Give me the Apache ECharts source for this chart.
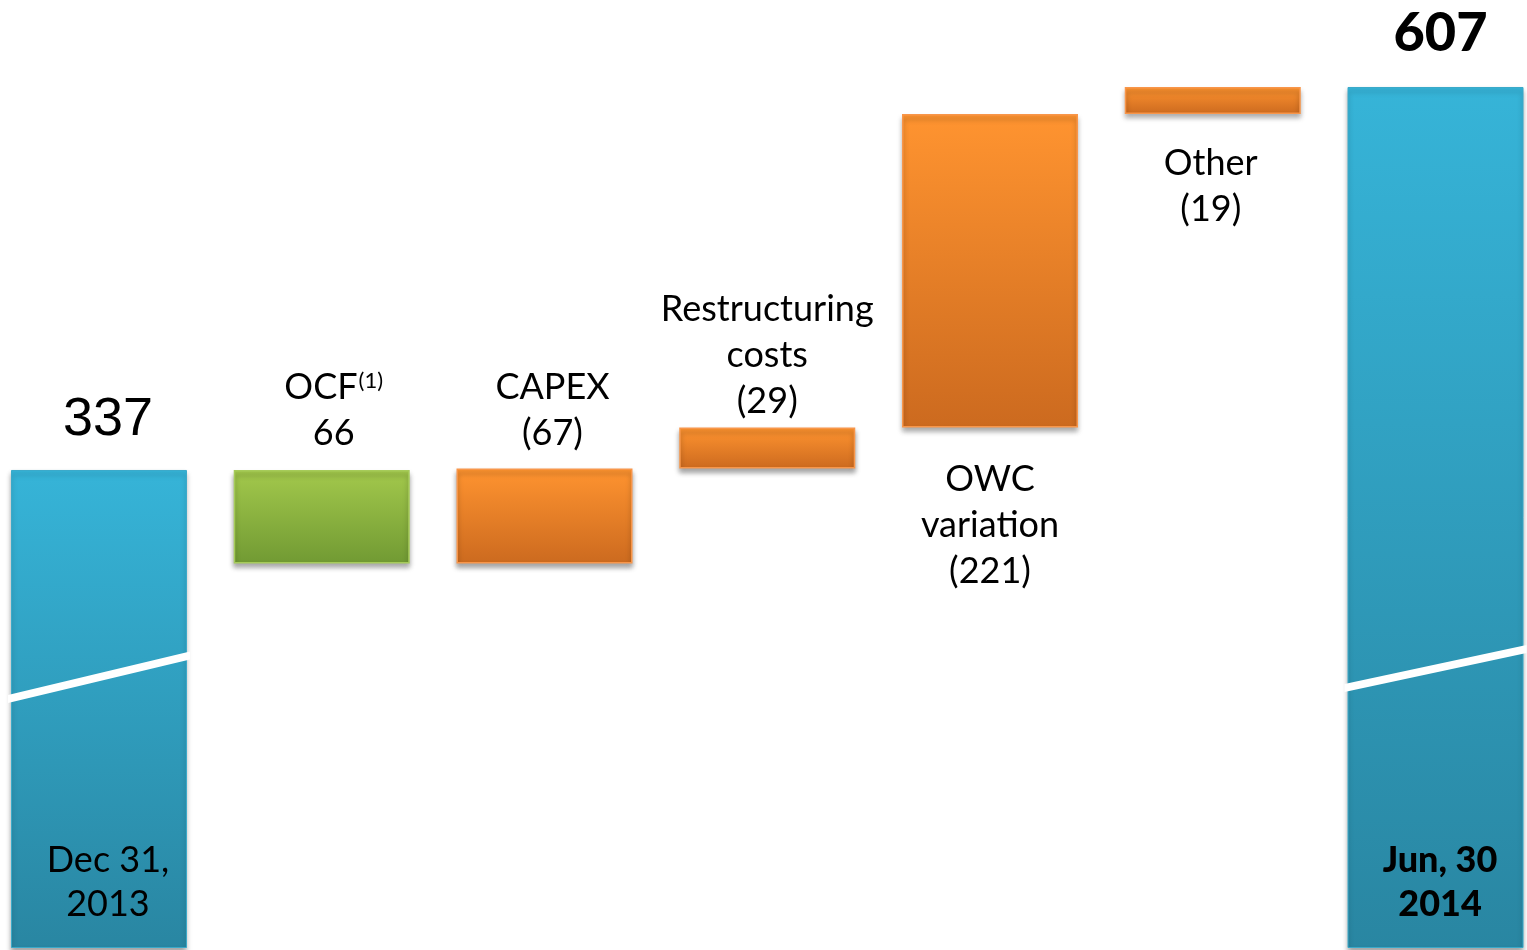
<!DOCTYPE html>
<html>
<head>
<meta charset="utf-8">
<script src="https://cdn.jsdelivr.net/npm/echarts@6/dist/echarts.min.js"></script>
<style>
  html, body { margin: 0; padding: 0; background: #ffffff; }
  #chart { width: 1527px; height: 950px; }
</style>
</head>
<body>
<div id="chart"></div>
<script>
// Net debt bridge, Dec 31 2013 -> Jun 30 2014
const categories = ['Dec 31, 2013', 'OCF', 'CAPEX', 'Restructuring costs', 'OWC variation', 'Other', 'Jun, 30 2014'];
const openingNetDebt = 337;
const closingNetDebt = 607;
// effect of each item on net debt (negative = reduces debt)
const movements = [-66, 67, 29, 221, 19];
const valueTexts = ['337', '66', '(67)', '(29)', '(221)', '(19)', '607'];
// axis-break marks on the two total bars: [category index, value at left edge, value at right edge]
const breakMarks = [[0, 175.5, 206.2], [6, 183.3, 210.8]];

const BAR_WIDTH = 176;
const FONT = 'Lato, "Open Sans", sans-serif';

// floating bases and visible heights of the waterfall
const bases = [0];
const heights = [openingNetDebt];
let running = openingNetDebt;
movements.forEach(m => {
  bases.push(m < 0 ? running + m : running);
  heights.push(Math.abs(m));
  running += m;
});
bases.push(0);
heights.push(closingNetDebt);

function grad(top, bottom) {
  return new echarts.graphic.LinearGradient(0, 0, 0, 1, [
    { offset: 0, color: top }, { offset: 1, color: bottom }
  ]);
}
const styles = {
  total: { color: grad('#36b4d8', '#2986a2'), borderColor: '#3aa9c9', borderWidth: 1 },
  down: { color: grad('#a3c94c', '#719a33'), borderColor: '#a6cb5a', borderWidth: 1.5 },
  up: { color: grad('#ff9430', '#cc6a1f'), borderColor: '#f8964a', borderWidth: 1.5 }
};
const shadow = { shadowColor: 'rgba(0,0,0,0.35)', shadowBlur: 5, shadowOffsetY: 4, shadowOffsetX: 0 };

const labelBase = { show: true, color: '#000', fontFamily: FONT, fontSize: 36, lineHeight: 46 };
const labels = [
  Object.assign({}, labelBase, { position: 'top', distance: 20, fontSize: 54, lineHeight: 60, fontFamily: '"Liberation Sans", Arial, sans-serif', offset: [9, 0], formatter: valueTexts[0] }),
  Object.assign({}, labelBase, { position: 'top', distance: 14, offset: [12, 0],
    formatter: '{n|OCF}{s|(1)}\n{n|' + valueTexts[1] + '}',
    rich: { n: { fontFamily: FONT, fontSize: 36, lineHeight: 46, color: '#000' },
            s: { fontFamily: FONT, fontSize: 22, lineHeight: 46, color: '#000', padding: [0, 0, 13, 1] } } }),
  Object.assign({}, labelBase, { position: 'top', distance: 12, offset: [8, 0], formatter: 'CAPEX\n' + valueTexts[2] }),
  Object.assign({}, labelBase, { position: 'top', distance: 3, offset: [0, 0], formatter: 'Restructuring\ncosts\n' + valueTexts[3] }),
  Object.assign({}, labelBase, { position: 'bottom', distance: 29, offset: [0, 0], formatter: 'OWC\nvariation\n' + valueTexts[4] }),
  Object.assign({}, labelBase, { position: 'bottom', distance: 26, offset: [-2, 0], formatter: 'Other\n' + valueTexts[5] }),
  Object.assign({}, labelBase, { position: 'top', distance: 23, fontSize: 54, lineHeight: 60, fontWeight: 900, offset: [5, 0], formatter: valueTexts[6] })
];

const kinds = ['total', 'down', 'up', 'up', 'up', 'up', 'total'];
const barData = heights.map((h, i) => ({
  value: h,
  itemStyle: Object.assign({}, styles[kinds[i]], shadow),
  label: labels[i]
}));

const chart = echarts.init(document.getElementById('chart'));
chart.setOption({
  animation: false,
  backgroundColor: '#ffffff',
  grid: { left: -12.4, right: -19.9, top: 26, bottom: 2, containLabel: false, outerBoundsMode: 'none' },
  xAxis: {
    type: 'category',
    data: categories,
    z: 20,
    axisLine: { show: false },
    axisTick: { show: false },
    splitLine: { show: false },
    axisLabel: {
      show: true,
      inside: true,
      interval: 0,
      margin: 22,
      formatter: (v, i) => i === 0 ? '{a|Dec 31,}\n{a|2013}' : (i === 6 ? '{b|Jun, 30}\n{b|2014}' : ''),
      rich: {
        a: { fontFamily: FONT, fontSize: 36, lineHeight: 44, color: '#000', padding: [0, 0, 0, 18] },
        b: { fontFamily: FONT, fontSize: 36, lineHeight: 44, color: '#000', fontWeight: 900, padding: [0, 0, 0, 9] }
      }
    }
  },
  yAxis: { type: 'value', min: 0, max: 650, show: false, splitLine: { show: false } },
  series: [
    {
      name: 'base', type: 'bar', stack: 'bridge', barWidth: BAR_WIDTH, silent: true,
      itemStyle: { color: 'rgba(0,0,0,0)' },
      data: bases
    },
    {
      name: 'net debt', type: 'bar', stack: 'bridge', barWidth: BAR_WIDTH,
      data: barData
    },
    {
      name: 'break', type: 'custom', z: 10, silent: true,
      data: breakMarks,
      renderItem: (params, api) => {
        const idx = api.value(0);
        const pl = api.coord([idx, api.value(1)]);
        const pr = api.coord([idx, api.value(2)]);
        const half = BAR_WIDTH / 2 + 3;
        const t = 4;
        return {
          type: 'polygon',
          shape: { points: [
            [pl[0] - half, pl[1] - t], [pr[0] + half, pr[1] - t],
            [pr[0] + half, pr[1] + t], [pl[0] - half, pl[1] + t]
          ] },
          style: { fill: '#ffffff' }
        };
      }
    }
  ]
});
</script>
</body>
</html>
